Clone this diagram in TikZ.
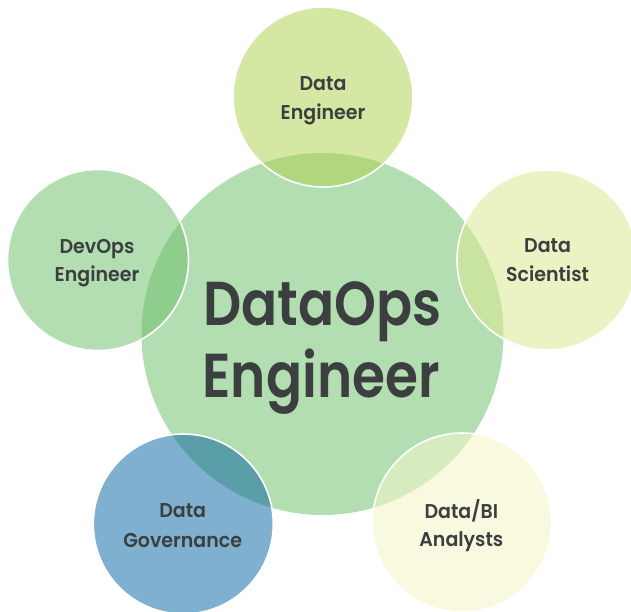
\documentclass[tikz,border=0pt]{standalone}
\usepackage{fontspec}
\setmainfont{Poppins}[BoldFont={* SemiBold}]
\definecolor{txt}{HTML}{3C3F3F}
\definecolor{cmain}{HTML}{B2DEB2}
\definecolor{cde}{HTML}{D4E7A3}
\definecolor{cdeo}{HTML}{B0D67E}
\definecolor{cdev}{HTML}{B2DEB2}
\definecolor{cdevo}{HTML}{8ECD8C}
\definecolor{cds}{HTML}{EBF2C4}
\definecolor{cdso}{HTML}{C9E3A0}
\definecolor{cgov}{HTML}{80B0CF}
\definecolor{cgovo}{HTML}{5A9FA7}
\definecolor{cbi}{HTML}{F9F9E0}
\definecolor{cbio}{HTML}{D6EBBE}
\newcommand{\sm}[1]{\scalebox{0.95}[1]{#1}}
\newcommand{\bg}[1]{\scalebox{0.86}[1]{#1}}
\tikzset{
  small/.style={text=txt,font=\fontsize{20}{24}\selectfont\bfseries,anchor=base,inner sep=0pt},
  big/.style={text=txt,font=\fontsize{62}{70}\selectfont\bfseries,anchor=base,inner sep=0pt},
  ring/.style={draw=white,line width=1.6pt}
}
\newcommand{\outercircle}[4]{%
  \fill[#3] (#1,#2) circle (#4);
  \begin{scope}
    \clip (322.5,334) circle (181);
    \fill[#3o] (#1,#2) circle (#4);
  \end{scope}
  \draw[ring] (#1,#2) circle (#4);
}
\begin{document}
\begin{tikzpicture}[x=1pt,y=-1pt]
\useasboundingbox (0,0) rectangle (631,611);
\begin{scope}
\clip (0,0) rectangle (631,611);
\fill[cmain] (322.5,334) circle (181);
\outercircle{323}{97}{cde}{90}
\outercircle{98}{260}{cdev}{90.5}
\outercircle{547}{260}{cds}{90}
\outercircle{183.3}{524}{cgov}{90}
\outercircle{462}{522.5}{cbi}{89.5}
\end{scope}
\node[big] (m1) at (322.5,325) {\bg{DataOps}};
\node[big] (m2) at (321,397) {\bg{Engineer}};
\node[small] (de1) at (323,90.7) {\sm{Data}};
\node[small] (de2) at (323,119.3) {\sm{Engineer}};
\node[small] (dv1) at (97,253.3) {\sm{DevOps}};
\node[small] (dv2) at (97,281.7) {\sm{Engineer}};
\node[small] (ds1) at (547.5,252.7) {\sm{Data}};
\node[small] (ds2) at (547.5,281.7) {\sm{Scientist}};
\node[small] (g1) at (182.7,517.7) {\sm{Data}};
\node[small] (g2) at (182.7,547.3) {\sm{Governance}};
\node[small] (b1) at (461.3,518.3) {\sm{Data/BI}};
\node[small] (b2) at (461.3,546.7) {\sm{Analysts}};
\end{tikzpicture}
\end{document}
